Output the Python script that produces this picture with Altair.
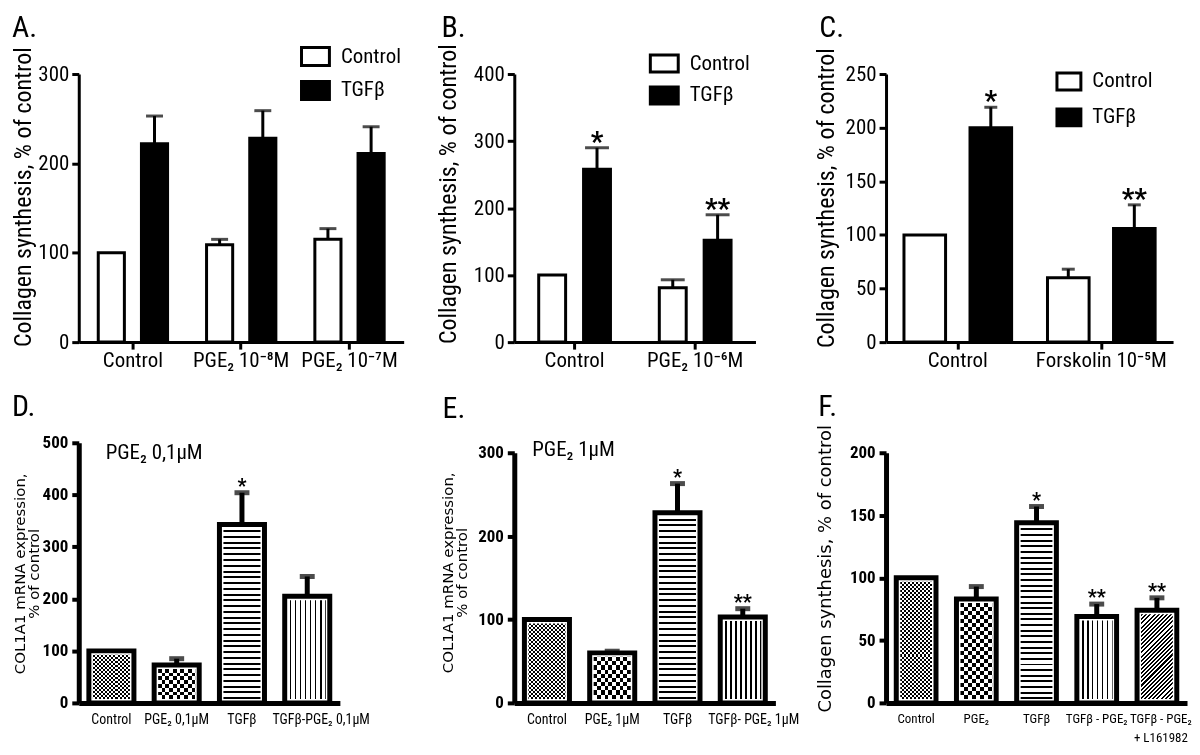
import altair as alt
import pandas as pd

# ---------------- data ----------------
SERIES = ["Control", "TGFβ"]

A_groups = ["Control", "PGE₂ 10⁻⁸M", "PGE₂ 10⁻⁷M"]
A_control = [100, 109, 115]
A_control_err = [0, 6, 12]
A_tgf = [222, 228, 211]
A_tgf_err = [31, 31, 30]
A_control_stars = ["", "", ""]
A_tgf_stars = ["", "", ""]

B_groups = ["Control", "PGE₂ 10⁻⁶M"]
B_control = [100, 81]
B_control_err = [0, 12]
B_tgf = [258, 152]
B_tgf_err = [32, 38]
B_control_stars = ["", ""]
B_tgf_stars = ["*", "**"]

C_groups = ["Control", "Forskolin 10⁻⁵M"]
C_control = [100, 60]
C_control_err = [0, 8]
C_tgf = [200, 106]
C_tgf_err = [19, 22]
C_control_stars = ["", ""]
C_tgf_stars = ["*", "**"]

D_cats = ["Control", "PGE₂  0,1μM", "TGFβ", "TGFβ-PGE₂ 0,1μM"]
D_vals = [100, 73, 343, 205]
D_errs = [0, 12, 61, 38]
D_stars = ["", "", "*", ""]

E_cats = ["Control", "PGE₂ 1μM", "TGFβ", "TGFβ- PGE₂ 1μM"]
E_vals = [100, 60, 228, 103]
E_errs = [0, 2, 35, 10]
E_stars = ["", "", "*", "**"]

F_cats = ["Control", "PGE₂", "TGFβ", "TGFβ - PGE₂", "TGFβ - PGE₂|+ L161982"]
F_vals = [100, 83, 144, 69, 74]
F_errs = [0, 10, 13, 10, 10]
F_stars = ["", "", "*", "**", "**"]

TITLE_SYN = "Collagen synthesis, % of control"
TITLE_MRNA = ["COL1A1 mRNA expression,", "% of control"]

# ---------------- styles ----------------
NARROW = "'Liberation Sans Narrow', 'Arial Narrow', 'Roboto Condensed', 'DejaVu Sans Condensed', Roboto, sans-serif"
WIDE = "'DejaVu Sans', Verdana, sans-serif"


def _stops(n, duty):
    stops = []
    for k in range(n):
        a = k / n
        b = (k + duty) / n
        c = (k + 1) / n
        stops += [
            {"offset": round(a, 5), "color": "black"},
            {"offset": round(b, 5), "color": "black"},
            {"offset": round(b, 5), "color": "white"},
            {"offset": round(min(c, 1), 5), "color": "white"},
        ]
    return stops


def stripes(n, duty, horizontal_lines):
    n = max(1, int(round(n)))
    g = {"gradient": "linear", "x1": 0, "y1": 0, "stops": _stops(n, duty)}
    if horizontal_lines:
        g.update(x2=0, y2=1)
    else:
        g.update(x2=1, y2=0)
    return g


def diagonal(w, h, period, duty):
    t = (w + h) / (w * w + h * h)
    n = max(1, int(round((w + h) / period)))
    return {"gradient": "linear", "x1": 0, "y1": 0,
            "x2": round(t * w, 5), "y2": round(t * h, 5), "stops": _stops(n, duty)}


def grouped_panel(groups, ctrl, ctrl_err, tgf, tgf_err, ctrl_st, tgf_st, ymax, ystep,
                  width, pad_x, pad_off, letter, letter_x, letter_y, title_x, title_y,
                  leg_x, leg_y, sym_w, sym_h, row_pad, cap_w):
    H = 269
    rows = []
    for i, g in enumerate(groups):
        rows.append(dict(g=g, s=SERIES[0], v=ctrl[i], e=ctrl_err[i], st=ctrl_st[i]))
        rows.append(dict(g=g, s=SERIES[1], v=tgf[i], e=tgf_err[i], st=tgf_st[i]))
    df = pd.DataFrame(rows)
    df["top"] = df["v"] + df["e"]
    base = alt.Chart(df)

    def X():
        return alt.X("g:N", sort=groups, title=None,
                     scale=alt.Scale(paddingInner=pad_x, paddingOuter=pad_x / 2),
                     axis=alt.Axis(labelAngle=0, domainWidth=3, domainColor="black",
                                   tickWidth=3, tickSize=7, tickColor="black",
                                   labelFont=NARROW, labelFontSize=21, labelColor="black",
                                   labelPadding=0, labelLimit=0, zindex=1))

    def XO():
        return alt.XOffset("s:N", sort=SERIES,
                           scale=alt.Scale(paddingInner=pad_off, paddingOuter=0))

    def Y(field):
        return alt.Y(f"{field}:Q", title=TITLE_SYN,
                     scale=alt.Scale(domain=[0, ymax], nice=False),
                     axis=alt.Axis(values=list(range(0, ymax + 1, ystep)), grid=False,
                                   domainWidth=3, domainColor="black", tickWidth=3,
                                   tickSize=7, tickColor="black", labelFont=NARROW,
                                   labelFontSize=21, labelColor="black", labelPadding=3,
                                   titleFont=NARROW, titleFontSize=24,
                                   titleFontWeight="normal", titleColor="black",
                                   titleX=title_x, titleY=title_y, titleAngle=270,
                                   titleBaseline="middle", titleAlign="center", zindex=1))

    r = round(sym_h / sym_w, 4)
    legend = alt.Legend(title=None, orient="none", legendX=leg_x, legendY=leg_y,
                        symbolType=f"M-1,-{r}H1V{r}H-1Z", symbolSize=sym_w * sym_w,
                        symbolStrokeColor="black", symbolStrokeWidth=3,
                        labelFont=NARROW, labelFontSize=21, labelColor="black",
                        labelOffset=10, rowPadding=row_pad, padding=0)
    bars = base.mark_bar(stroke="black", strokeWidth=3).encode(
        x=X(), xOffset=XO(), y=Y("v"),
        fill=alt.Fill("s:N", sort=SERIES,
                      scale=alt.Scale(domain=SERIES, range=["white", "black"]),
                      legend=legend))
    eb = base.transform_filter("datum.e > 0")
    rule = eb.mark_rule(color="black", strokeWidth=3).encode(
        x=X(), xOffset=XO(), y=Y("v"), y2="top:Q")
    cap = eb.mark_tick(color="black", thickness=3, size=cap_w).encode(
        x=X(), xOffset=XO(), y=Y("top"))
    stars = base.transform_filter("datum.st != ''").mark_text(
        font=NARROW, fontSize=28, fontWeight="bold", baseline="alphabetic",
        dy=3, color="black").encode(x=X(), xOffset=XO(), y=Y("top"), text="st:N")
    lab = alt.Chart(pd.DataFrame({"t": [letter]})).mark_text(
        font=NARROW, fontSize=30, align="left", baseline="alphabetic",
        color="black").encode(text="t:N", x=alt.value(letter_x), y=alt.value(letter_y))
    return (alt.layer(bars, rule, cap, stars, lab)
            .properties(width=width, height=H))


def pattern_panel(cats, vals, errs, stars, kinds, ymax, ystep, width, y_top, pad_x,
                  title, title_x, title_y, title_font, title_size,
                  letter, letter_x, letter_y, note, note_x, note_y, last_shift, lab_size):
    H = 261
    n = len(cats)
    step = width / n
    bw = step * (1 - pad_x)
    plot_h = H - y_top
    df = pd.DataFrame(dict(c=cats, v=vals, e=errs, st=stars, i=list(range(n))))
    df["top"] = df["v"] + df["e"]
    base = alt.Chart(df)
    shift = {"condition": {"test": f"datum.value == '{cats[-1]}'", "value": last_shift},
             "value": 0}

    def X():
        return alt.X("c:N", sort=cats, title=None,
                     scale=alt.Scale(paddingInner=pad_x, paddingOuter=pad_x / 2),
                     axis=alt.Axis(labelAngle=0, domainWidth=5, domainColor="black",
                                   ticks=False, labelFont=NARROW, labelFontSize=lab_size,
                                   labelColor="black", labelPadding=10, labelLimit=0,
                                   labelExpr="split(datum.label, '|')",
                                   labelOffset=shift,
                                   labelLineHeight=19, zindex=1))

    def Y(field):
        return alt.Y(f"{field}:Q", title=title,
                     scale=alt.Scale(domain=[0, ymax], nice=False, range=[H, y_top]),
                     axis=alt.Axis(values=list(range(0, ymax + 1, ystep)), grid=False,
                                   domainWidth=5, domainColor="black", tickWidth=4,
                                   tickSize=7, tickColor="black", labelFont=NARROW,
                                   labelFontSize=17, labelFontWeight="bold",
                                   labelColor="black", labelPadding=4,
                                   titleFont=title_font, titleFontSize=title_size,
                                   titleFontWeight="normal", titleColor="black",
                                   titleLineHeight=14,
                                   titleX=title_x, titleY=title_y, titleAngle=270,
                                   titleBaseline="middle", titleAlign="center", zindex=1))

    layers = []
    for k, kind in enumerate(kinds):
        h = vals[k] / ymax * plot_h
        sub = base.transform_filter(f"datum.i == {k}")
        enc = dict(x=X(), y=Y("v"))
        if kind in ("fine", "coarse"):
            p = 4 if kind == "fine" else 8
            layers.append(sub.mark_bar(fill=stripes(h / p, 0.5, True)).encode(**enc))
            layers.append(sub.mark_bar(fill=stripes(bw / p, 0.5, False),
                                       blend="difference").encode(**enc))
        elif kind == "hlines":
            layers.append(sub.mark_bar(fill=stripes(h / 5.7, 0.35, True)).encode(**enc))
        elif kind == "vlines":
            layers.append(sub.mark_bar(fill=stripes(bw / 5.0, 0.35, False)).encode(**enc))
        else:
            layers.append(sub.mark_bar(fill=diagonal(bw, h, 4.2, 0.5)).encode(**enc))

    halo = base.mark_bar(fillOpacity=0, stroke="white", strokeWidth=8).encode(x=X(), y=Y("v"))
    outline = base.mark_bar(fillOpacity=0, stroke="black", strokeWidth=5).encode(x=X(), y=Y("v"))
    eb = base.transform_filter("datum.e > 0")
    rule = eb.mark_rule(color="black", strokeWidth=5).encode(x=X(), y=Y("v"), y2="top:Q")
    cap = eb.mark_tick(color="black", thickness=5, size=15).encode(x=X(), y=Y("top"))
    st = base.transform_filter("datum.st != ''").mark_text(
        font=NARROW, fontSize=20, fontWeight="bold", baseline="alphabetic",
        dy=0, color="black").encode(x=X(), y=Y("top"), text="st:N")
    lab = alt.Chart(pd.DataFrame({"t": [letter]})).mark_text(
        font=NARROW, fontSize=30, align="left", baseline="alphabetic",
        color="black").encode(text="t:N", x=alt.value(letter_x), y=alt.value(letter_y))
    out = layers + [halo, outline, rule, cap, st, lab]
    if note:
        out.append(alt.Chart(pd.DataFrame({"t": [note]})).mark_text(
            font=NARROW, fontSize=21, align="left", baseline="alphabetic",
            color="black").encode(text="t:N", x=alt.value(note_x), y=alt.value(note_y)))
    return alt.layer(*out).properties(width=width, height=H)


A = grouped_panel(A_groups, A_control, A_control_err, A_tgf, A_tgf_err,
                  A_control_stars, A_tgf_stars, 300, 100, 326, 0.36, 0.395,
                  "A.", -67, -37, -55, 123, 222, -33, 28, 18, 3, 17)
B = grouped_panel(B_groups, B_control, B_control_err, B_tgf, B_tgf_err,
                  B_control_stars, B_tgf_stars, 400, 100, 242, 0.405, 0.4,
                  "B.", -73, -37, -66, 120, 135, -26, 28, 17, 2, 24)
C = grouped_panel(C_groups, C_control, C_control_err, C_tgf, C_tgf_err,
                  C_control_stars, C_tgf_stars, 250, 50, 288, 0.25, 0.37,
                  "C.", -67, -37, -60, 124, 170, -6, 24, 17, 7, 13)

D = pattern_panel(D_cats, D_vals, D_errs, D_stars,
                  ["fine", "coarse", "hlines", "vlines"], 500, 100, 262, 0, 0.31,
                  TITLE_MRNA, -59, 131, WIDE, 15, "D.", -67, -27, "PGE₂  0,1μM", 27, 16,
                  14, 14)
E = pattern_panel(E_cats, E_vals, E_errs, E_stars,
                  ["fine", "coarse", "hlines", "vlines"], 300, 100, 262, 10, 0.31,
                  TITLE_MRNA, -67, 130, WIDE, 15, "E.", -72, -25, "PGE₂ 1μM", 18, 13,
                  11, 14)
F = pattern_panel(F_cats, F_vals, F_errs, F_stars,
                  ["fine", "coarse", "hlines", "vlines", "diag"], 200, 50, 302, 10, 0.34,
                  TITLE_SYN, -61, 126, WIDE, 18, "F.", -68, -27, "", 0, 0, 4, 13)

chart = (alt.concat(A, B, C, D, E, F, columns=3, spacing={"row": 101, "column": 111},
                    bounds="flush", align="each")
         .resolve_scale(fill="independent", xOffset="independent")
         .resolve_legend(fill="independent")
         .properties(padding={"left": 3, "top": 3, "right": 0, "bottom": 0},
                     background="white")
         .configure_view(stroke="transparent"))

chart.save("out.html", embed_options={"renderer": "svg", "actions": False})
